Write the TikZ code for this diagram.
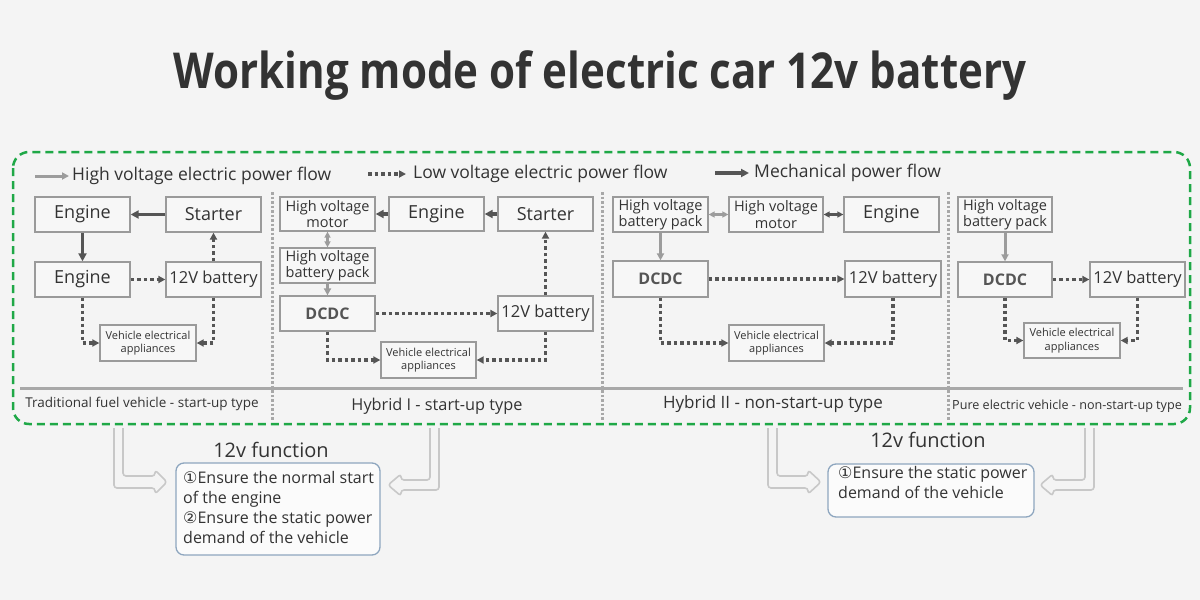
\documentclass[tikz,border=0pt]{standalone}
\usepackage{fontspec}
\setmainfont{Open Sans}
\newfontfamily\circfont{DejaVu Sans}
\newfontfamily\titlefont[FakeStretch=0.85]{Open Sans}
\usetikzlibrary{arrows.meta}
\definecolor{bg}{HTML}{F4F4F4}
\definecolor{boxfill}{HTML}{F7F7F7}
\definecolor{txt}{HTML}{333333}
\definecolor{bord}{HTML}{9A9A9A}
\definecolor{hvc}{HTML}{9C9C9C}
\definecolor{lvc}{HTML}{555555}
\definecolor{mechc}{HTML}{555555}
\definecolor{grn}{HTML}{1FA847}
\definecolor{fnbord}{HTML}{8EA6BF}
\definecolor{hollow}{HTML}{C8C8C8}
\definecolor{sepc}{HTML}{A8A8A8}
\tikzset{
  box/.style={draw=bord, fill=boxfill, line width=1.3pt, inner sep=0pt, align=center, text=txt, font=\fontsize{18}{20}\selectfont},
  batt/.style={font=\fontsize{16.5}{18}\selectfont},
  small/.style={font=\fontsize{14.5}{16.5}\selectfont},
  tiny/.style={font=\fontsize{11}{13.5}\selectfont},
  dcdc/.style={font=\fontsize{16}{18}\selectfont\bfseries, text=lvc},
  hv/.style={draw=hvc, line width=3pt, -{Triangle[length=7pt,width=7pt]}},
  hvd/.style={draw=hvc, line width=3pt, {Triangle[length=6pt,width=6pt]}-{Triangle[length=6pt,width=6pt]}},
  mech/.style={draw=mechc, line width=3.5pt, -{Triangle[length=8pt,width=8pt]}},
  mechd/.style={draw=mechc, line width=3pt, {Triangle[length=6pt,width=6pt]}-{Triangle[length=6pt,width=6pt]}},
  lv/.style={draw=lvc, line width=3.5pt, dash pattern=on 3.5pt off 3pt, -{Triangle[length=7pt,width=7pt]}},
  sep/.style={draw=sepc, line width=3pt, dash pattern=on 2.5pt off 2pt},
  lbl/.style={text=txt, inner sep=0pt},
  hollowarrow/.style={draw=hollow, line width=1.6pt, line join=round, rounded corners=3pt}
}
\newcommand\bx[7][]{\node[box,#1,minimum width={#4-#2},minimum height={#5-#3}] (#7) at ({(#2+#4)/2},{(#3+#5)/2}) {#6};}
\begin{document}
\begin{tikzpicture}[x=1pt,y=-1pt]
\fill[bg] (0,0) rectangle (1200,600);
\useasboundingbox (0,0) rectangle (1200,600);

% title
\node[lbl, anchor=base, font=\titlefont\bfseries\fontsize{49.5}{60}\selectfont] (title) at (600,88) {Working mode of electric car 12v battery};

% green frame
\draw[grn, line width=2.5pt, dash pattern=on 8pt off 5pt, rounded corners=16pt] (13,152) rectangle (1190,424);

% legend
\coordinate (lg1a) at (35,176); \coordinate (lg1b) at (69,176);
\draw[hv] (lg1a) -- (lg1b);
\node[lbl, anchor=west, font=\fontsize{17.5}{20}\selectfont] (lgt1) at (72,176) {High voltage electric power flow};
\coordinate (lg2a) at (368,174); \coordinate (lg2b) at (406,174);
\draw[lv] (lg2a) -- (lg2b);
\node[lbl, anchor=west, font=\fontsize{17.5}{20}\selectfont] (lgt2) at (413,174) {Low voltage electric power flow};
\coordinate (lg3a) at (715,173); \coordinate (lg3b) at (749,173);
\draw[mech] (lg3a) -- (lg3b);
\node[lbl, anchor=west, font=\fontsize{17.5}{20}\selectfont] (lgt3) at (754,173) {Mechanical power flow};

% separators
\coordinate (s1a) at (272,192); \coordinate (s1b) at (272,420);
\coordinate (s2a) at (602,192); \coordinate (s2b) at (602,420);
\coordinate (s3a) at (948,192); \coordinate (s3b) at (948,420);
\draw[sep] (s1a) -- (s1b);
\draw[sep] (s2a) -- (s2b);
\draw[sep] (s3a) -- (s3b);
\coordinate (hla) at (20,388); \coordinate (hlb) at (1183,388);
\draw[draw=sepc, line width=3pt] (hla) -- (hlb);

% panel 1
\bx{35}{197}{130}{232}{Engine}{p1en}
\bx{166}{197}{261}{232}{Starter}{p1st}
\bx{35}{262}{130}{297}{Engine}{p1en2}
\bx[batt]{166}{262}{261}{297}{12V battery}{p1bat}
\bx[tiny]{100}{325}{196}{361}{Vehicle electrical\\appliances}{p1app}
\draw[mech] (p1st.west) -- (p1en.east);
\draw[mech] (p1en.south) -- (p1en2.north);
\draw[lv] (p1en2.east) -- (p1bat.west);
\draw[lv] (p1bat.north) -- (p1st.south);
\draw[lv] (p1en2.south) |- (p1app.west);
\draw[lv] (p1bat.south) |- (p1app.east);
\node[lbl, font=\fontsize{13.5}{16}\selectfont] (l1) at (142,404) {Traditional fuel vehicle - start-up type};

% panel 2
\bx[small]{280}{197}{375}{231}{High voltage\\motor}{p2mot}
\bx{389}{197}{484}{231}{Engine}{p2en}
\bx{498}{197}{593}{231}{Starter}{p2st}
\bx[small]{280}{248}{375}{283}{High voltage\\battery pack}{p2pack}
\bx[dcdc]{280}{296}{375}{331}{DCDC}{p2dc}
\bx[batt]{498}{296}{593}{331}{12V battery}{p2bat}
\bx[tiny]{381}{342}{476}{378}{Vehicle electrical\\appliances}{p2app}
\draw[mech] (p2st.west) -- (p2en.east);
\draw[mech] (p2en.west) -- (p2mot.east);
\draw[hvd] (p2mot.south) -- (p2pack.north);
\draw[hv] (p2pack.south) -- (p2dc.north);
\draw[lv] (p2dc.east) -- (p2bat.west);
\draw[lv] (p2bat.north) -- (p2st.south);
\draw[lv] (p2dc.south) |- (p2app.west);
\draw[lv] (p2bat.south) |- (p2app.east);
\node[lbl, font=\fontsize{16.3}{19}\selectfont] (l2) at (437,406) {Hybrid I - start-up type};

% panel 3
\bx[small]{613}{197}{708}{232}{High voltage\\battery pack}{p3pack}
\bx[small]{729}{197}{823}{232}{High voltage\\motor}{p3mot}
\bx{844}{197}{939}{232}{Engine}{p3en}
\bx[dcdc]{613}{261}{708}{297}{DCDC}{p3dc}
\bx[batt]{845}{261}{941}{297}{12V battery}{p3bat}
\bx[tiny]{729}{325}{824}{361}{Vehicle electrical\\appliances}{p3app}
\draw[hvd] (p3pack.east) -- (p3mot.west);
\draw[mechd] (p3mot.east) -- (p3en.west);
\draw[hv] (p3pack.south) -- (p3dc.north);
\draw[lv] (p3dc.east) -- (p3bat.west);
\draw[lv] (p3dc.south) |- (p3app.west);
\draw[lv] (p3bat.south) |- (p3app.east);
\node[lbl, font=\fontsize{17}{19}\selectfont] (l3) at (773,404) {Hybrid II - non-start-up type};

% panel 4
\bx[small]{958}{197}{1052}{232}{High voltage\\battery pack}{p4pack}
\bx[dcdc]{958}{262}{1052}{297}{DCDC}{p4dc}
\bx[batt]{1090}{262}{1185}{297}{12V battery}{p4bat}
\bx[tiny]{1024}{323}{1120}{358}{Vehicle electrical\\appliances}{p4app}
\draw[hv] (p4pack.south) -- (p4dc.north);
\draw[lv] (p4dc.east) -- (p4bat.west);
\draw[lv] (p4dc.south) |- (p4app.west);
\draw[lv] (p4bat.south) |- (p4app.east);
\node[lbl, font=\fontsize{12.6}{15}\selectfont] (l4) at (1067,406) {Pure electric vehicle - non-start-up type};

% bottom left
\node[lbl, font=\fontsize{20}{22}\selectfont] (f1t) at (271,450) {12v function};
\node[draw=fnbord, fill=white!60!bg, line width=1.3pt, rounded corners=8pt, minimum width=204, minimum height=92, inner sep=0pt] (f1) at (278,509) {};
\node[lbl, anchor=north west, align=left, font=\fontsize{16}{20}\selectfont] (f1x) at (183,471) {{\circfont ①}Ensure the normal start\\of the engine\\{\circfont ②}Ensure the static power\\demand of the vehicle};
\draw[hollowarrow] (114,428) -- (114,488) -- (155,488) -- (155,494) -- (167,482) -- (155,470) -- (155,476) -- (123,476) -- (123,428);
\draw[hollowarrow] (439,428) -- (439,490) -- (401,490) -- (401,496) -- (388,485) -- (401,474) -- (401,480) -- (430,480) -- (430,428);

% bottom right
\node[lbl, font=\fontsize{20}{22}\selectfont] (f2t) at (928,440) {12v function};
\node[draw=fnbord, fill=white!60!bg, line width=1.3pt, rounded corners=8pt, minimum width=206, minimum height=53, inner sep=0pt] (f2) at (931,490.5) {};
\node[lbl, anchor=north west, align=left, font=\fontsize{16}{20}\selectfont] (f2x) at (838,466) {{\circfont ①}Ensure the static power\\demand of the vehicle};
\draw[hollowarrow] (768,428) -- (768,488) -- (808,488) -- (808,494) -- (821,482) -- (808,470) -- (808,476) -- (777,476) -- (777,428);
\draw[hollowarrow] (1094,428) -- (1094,490) -- (1053,490) -- (1053,496) -- (1040,485) -- (1053,474) -- (1053,480) -- (1085,480) -- (1085,428);
\end{tikzpicture}
\end{document}
